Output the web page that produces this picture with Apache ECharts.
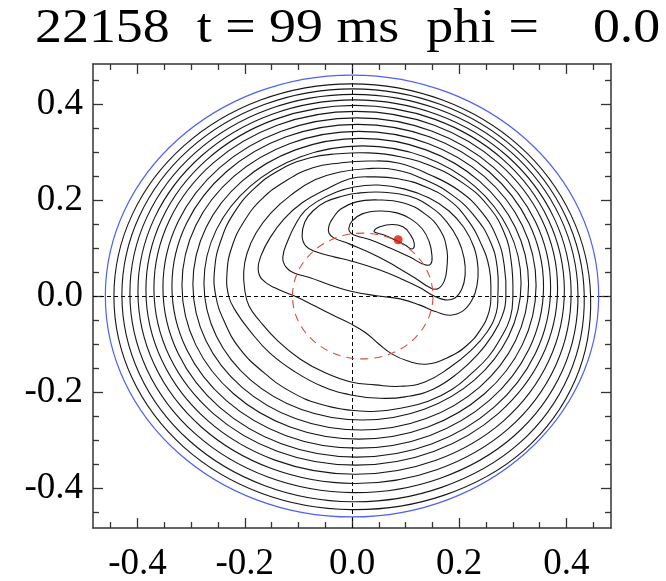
<!DOCTYPE html>
<html>
<head>
<meta charset="utf-8">
<script src="https://cdn.jsdelivr.net/npm/echarts@6/dist/echarts.min.js"></script>
<style>
  html, body { margin: 0; padding: 0; background: #fff; }
  #chart { width: 666px; height: 581px; }
</style>
</head>
<body>
<div id="chart"></div>
<script>
const titleText = '22158  t = 99 ms  phi =    0.0'

// axes: same range both ways, ticks every 0.2 with minor ticks every 0.05
const axisRange = [-0.483, 0.483]
const majorTicks = [-0.4, -0.2, 0, 0.2, 0.4]
const minorTicks = [-0.45, -0.35, -0.3, -0.25, -0.15, -0.1, -0.05, 0.05, 0.1, 0.15, 0.25, 0.3, 0.35, 0.45]

// circles [x0, y0, r]
const wallCircle = [0, 0, 0.46]
const q1Circle = [0.02, 0, 0.131]
// magnetic axis (O-point)
const axisPoint = [0.086, 0.117]

// middle flux surfaces, close to ellipses: [x0, y0, rx, ry]
const ellipticSurfaces = [
  [0.0196, 0.0271, 0.2957, 0.2854],
  [0.0163, 0.0245, 0.3130, 0.3036],
  [0.0131, 0.0224, 0.3302, 0.3203],
  [0.0107, 0.0203, 0.3465, 0.3370],
  [0.0089, 0.0177, 0.3615, 0.3531],
  [0.0070, 0.0161, 0.3764, 0.3682]
]

// inner (kinked) flux surfaces, traced point by point, innermost first
const surface1 = [[0.041,0.135],[0.052,0.144],[0.075,0.149],[0.095,0.144],[0.108,0.129],[0.116,0.110],[0.112,0.098],[0.099,0.106],[0.080,0.117],[0.060,0.127],[0.047,0.131]]
const surface2 = [[-0.006,0.140],[0.000,0.156],[0.019,0.171],[0.052,0.177],[0.084,0.173],[0.110,0.160],[0.131,0.140],[0.144,0.113],[0.149,0.085],[0.147,0.067],[0.136,0.065],[0.108,0.081],[0.071,0.100],[0.034,0.117],[0.009,0.125],[-0.002,0.131]]
const surface3 = [[-0.021,0.181],[0.008,0.196],[0.047,0.200],[0.095,0.194],[0.136,0.171],[0.164,0.138],[0.177,0.096],[0.177,0.060],[0.172,0.031],[0.160,0.015],[0.146,0.017],[0.121,0.035],[0.084,0.060],[0.047,0.083],[-0.004,0.108],[-0.034,0.121],[-0.043,0.131],[-0.043,0.146],[-0.035,0.163]]
const surface4 = [[-0.017,0.208],[-0.049,0.196],[-0.073,0.177],[-0.088,0.154],[-0.093,0.125],[-0.086,0.104],[-0.067,0.092],[-0.032,0.081],[-0.002,0.073],[0.052,0.054],[0.093,0.035],[0.127,0.017],[0.153,0.000],[0.174,-0.008],[0.192,-0.004],[0.205,0.015],[0.211,0.044],[0.209,0.079],[0.198,0.117],[0.177,0.154],[0.147,0.185],[0.106,0.208],[0.058,0.216],[0.009,0.214]]
const surface5 = [[0.004,0.227],[-0.032,0.215],[-0.063,0.198],[-0.088,0.177],[-0.105,0.150],[-0.119,0.117],[-0.129,0.081],[-0.123,0.060],[-0.108,0.048],[-0.078,0.038],[-0.041,0.023],[-0.002,0.010],[0.049,0.000],[0.090,-0.006],[0.127,-0.019],[0.157,-0.033],[0.183,-0.040],[0.207,-0.031],[0.224,-0.008],[0.233,0.021],[0.235,0.058],[0.228,0.100],[0.209,0.142],[0.181,0.177],[0.144,0.204],[0.097,0.223],[0.049,0.231]]
const surface6 = [[-0.168,0.035],[-0.144,0.017],[-0.103,-0.002],[-0.069,-0.021],[-0.035,-0.040],[-0.002,-0.058],[0.026,-0.077],[0.050,-0.100],[0.075,-0.121],[0.103,-0.135],[0.138,-0.142],[0.177,-0.129],[0.213,-0.104],[0.239,-0.071],[0.256,-0.031],[0.259,0.008],[0.256,0.058],[0.241,0.108],[0.216,0.158],[0.183,0.198],[0.138,0.227],[0.086,0.244],[0.037,0.248],[-0.004,0.244],[-0.050,0.221],[-0.093,0.194],[-0.127,0.160],[-0.153,0.121],[-0.170,0.083],[-0.175,0.056]]
const surface7 = [[0.272,0.000],[0.269,-0.035],[0.252,-0.075],[0.222,-0.113],[0.181,-0.150],[0.136,-0.179],[0.090,-0.188],[0.043,-0.185],[-0.002,-0.179],[-0.050,-0.160],[-0.097,-0.131],[-0.138,-0.094],[-0.172,-0.052],[-0.192,-0.021],[-0.200,0.013],[-0.202,0.050],[-0.196,0.088],[-0.179,0.131],[-0.151,0.173],[-0.114,0.210],[-0.069,0.242],[-0.022,0.258],[0.026,0.265],[0.080,0.263],[0.136,0.242],[0.187,0.210],[0.228,0.167],[0.258,0.113],[0.271,0.058]]
const surface8 = [[0.287,0.000],[0.280,-0.042],[0.261,-0.083],[0.235,-0.121],[0.198,-0.160],[0.151,-0.194],[0.099,-0.210],[0.052,-0.213],[-0.002,-0.206],[-0.056,-0.188],[-0.106,-0.158],[-0.153,-0.119],[-0.190,-0.073],[-0.216,-0.033],[-0.230,0.000],[-0.233,0.050],[-0.224,0.102],[-0.202,0.154],[-0.168,0.202],[-0.123,0.240],[-0.073,0.267],[-0.022,0.277],[0.030,0.281],[0.086,0.277],[0.146,0.252],[0.200,0.219],[0.243,0.173],[0.271,0.119],[0.284,0.063]]
const surface9 = [[0.300,0.000],[0.295,-0.046],[0.276,-0.090],[0.254,-0.127],[0.224,-0.160],[0.187,-0.194],[0.142,-0.219],[0.093,-0.233],[0.045,-0.240],[-0.002,-0.238],[-0.060,-0.225],[-0.116,-0.198],[-0.166,-0.158],[-0.209,-0.110],[-0.237,-0.056],[-0.254,0.000],[-0.256,0.058],[-0.244,0.117],[-0.220,0.173],[-0.183,0.223],[-0.134,0.263],[-0.078,0.288],[-0.026,0.296],[0.030,0.298],[0.090,0.290],[0.151,0.269],[0.207,0.235],[0.252,0.190],[0.284,0.131],[0.297,0.071]]
const innerSurfaces = [surface1, surface2, surface3, surface4, surface5, surface6, surface7, surface8, surface9]

// outermost flux surfaces, pressed against the wall on the lower right
const edge1 = [[0.3960,0.0130],[0.3658,0.1599],[0.2813,0.2845],[0.1548,0.3677],[0.0056,0.3969],[-0.1436,0.3677],[-0.2701,0.2845],[-0.3546,0.1599],[-0.3843,0.0130],[-0.3546,-0.1339],[-0.2701,-0.2585],[-0.1436,-0.3417],[0.0056,-0.3712],[0.1552,-0.3426],[0.2827,-0.2599],[0.3672,-0.1345]]
const edge2 = [[0.4086,0.0094],[0.3769,0.1621],[0.2894,0.2915],[0.1586,0.3780],[0.0042,0.4084],[-0.1502,0.3780],[-0.2810,0.2915],[-0.3685,0.1621],[-0.3992,0.0094],[-0.3685,-0.1433],[-0.2810,-0.2727],[-0.1502,-0.3592],[0.0042,-0.3902],[0.1594,-0.3610],[0.2923,-0.2755],[0.3799,-0.1445]]
const edge3 = [[0.4214,0.0057],[0.3881,0.1642],[0.2977,0.2985],[0.1624,0.3883],[0.0028,0.4198],[-0.1568,0.3883],[-0.2921,0.2985],[-0.3825,0.1642],[-0.4142,0.0057],[-0.3825,-0.1528],[-0.2921,-0.2871],[-0.1568,-0.3769],[0.0028,-0.4093],[0.1636,-0.3798],[0.3021,-0.2915],[0.3927,-0.1547]]
const edge4 = [[0.4331,0.0021],[0.3982,0.1664],[0.3050,0.3056],[0.1655,0.3986],[0.0009,0.4313],[-0.1637,0.3986],[-0.3032,0.3056],[-0.3964,0.1664],[-0.4291,0.0021],[-0.3964,-0.1622],[-0.3032,-0.3014],[-0.1637,-0.3944],[0.0009,-0.4284],[0.1671,-0.3984],[0.3111,-0.3075],[0.4045,-0.1648]]
const edge5 = [[0.4450,-0.0010],[0.4085,0.1684],[0.3124,0.3120],[0.1687,0.4080],[-0.0009,0.4417],[-0.1705,0.4080],[-0.3142,0.3120],[-0.4103,0.1684],[-0.4440,-0.0010],[-0.4103,-0.1704],[-0.3142,-0.3140],[-0.1705,-0.4100],[-0.0009,-0.4447],[0.1708,-0.4151],[0.3202,-0.3218],[0.4167,-0.1738]]
const edgeSurfaces = [edge1, edge2, edge3, edge4, edge5]

const lineColor = '#161616'
const frameColor = '#333'
const labelFont = { fontFamily: 'Liberation Serif', fontSize: 37, color: '#000' }

function makeAxis (position, ticks, tickLen, withLine, withLabel) {
  const vertical = position === 'left' || position === 'right'
  return {
    type: 'value',
    position: position,
    min: axisRange[0],
    max: axisRange[1],
    axisLine: { show: withLine, onZero: false, lineStyle: { color: frameColor, width: 1.5 } },
    axisTick: { show: true, inside: true, length: tickLen, customValues: ticks, lineStyle: { color: frameColor, width: 1.3 } },
    axisLabel: Object.assign({ show: withLabel, customValues: majorTicks, margin: vertical ? 10 : 18, formatter: v => v.toFixed(1) }, labelFont),
    splitLine: { show: false }
  }
}

function surfaceSeries (points, smooth) {
  return {
    type: 'custom',
    coordinateSystem: 'cartesian2d',
    data: points,
    z: 3,
    silent: true,
    renderItem: (params, api) => {
      if (params.dataIndex !== 0) return null
      return {
        type: 'polygon',
        shape: { points: points.map(p => api.coord(p)), smooth: smooth },
        style: { fill: 'none', stroke: lineColor, lineWidth: 1.1 }
      }
    }
  }
}

function ellipseSeries (data, style, z) {
  return {
    type: 'custom',
    coordinateSystem: 'cartesian2d',
    data: data,
    z: z,
    silent: true,
    renderItem: (params, api) => {
      const c = api.coord([api.value(0), api.value(1)])
      const rx = api.value(2)
      const ry = data[params.dataIndex].length > 3 ? api.value(3) : rx
      const s = api.size([rx, ry])
      return {
        type: 'ellipse',
        shape: { cx: c[0], cy: c[1], rx: s[0], ry: s[1] },
        style: Object.assign({ fill: 'none' }, style)
      }
    }
  }
}

const chart = echarts.init(document.getElementById('chart'))
chart.setOption({
  animation: false,
  backgroundColor: '#fff',
  grid: { left: 93, right: 55, top: 64, bottom: 53, outerBoundsMode: 'none' },
  graphic: [{
    type: 'text',
    x: 35,
    y: 29,
    scaleX: 1.1,
    style: { text: titleText, font: '49px "Liberation Serif"', fill: '#000', verticalAlign: 'middle' }
  }],
  xAxis: [
    makeAxis('bottom', majorTicks, 10, true, true),
    makeAxis('bottom', minorTicks, 6, false, false),
    makeAxis('top', majorTicks, 10, true, false),
    makeAxis('top', minorTicks, 6, false, false)
  ],
  yAxis: [
    makeAxis('left', majorTicks, 10, true, true),
    makeAxis('left', minorTicks, 6, false, false),
    makeAxis('right', majorTicks, 10, true, false),
    makeAxis('right', minorTicks, 6, false, false)
  ],
  series: [
    ...innerSurfaces.map(s => surfaceSeries(s, 0.45)),
    ellipseSeries(ellipticSurfaces, { stroke: lineColor, lineWidth: 1.1 }, 3),
    ...edgeSurfaces.map(s => surfaceSeries(s, 0.35)),
    ellipseSeries([wallCircle], { stroke: '#5060f0', lineWidth: 1.2 }, 4),
    ellipseSeries([q1Circle], { stroke: '#d84a40', lineWidth: 1.1, lineDash: [8, 6] }, 5),
    {
      type: 'scatter',
      data: [axisPoint],
      symbolSize: 9,
      itemStyle: { color: '#d41a0a' },
      z: 6,
      silent: true,
      markLine: {
        silent: true,
        symbol: 'none',
        z: 1,
        label: { show: false },
        emphasis: { disabled: true },
        lineStyle: { color: '#000', type: [4, 3], width: 1 },
        data: [{ xAxis: 0 }, { yAxis: 0 }]
      }
    }
  ]
})
</script>
</body>
</html>
